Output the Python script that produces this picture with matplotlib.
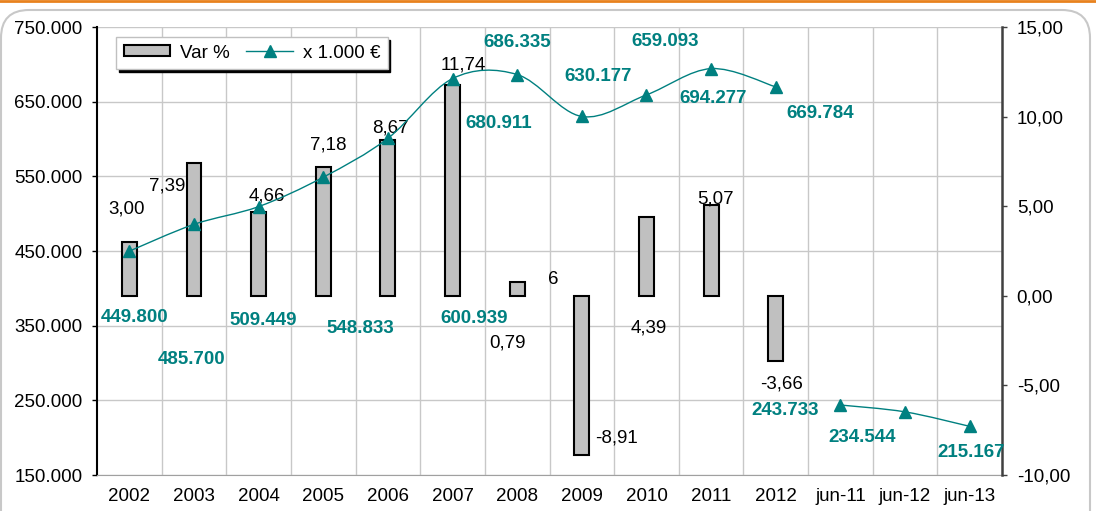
import numpy as np
import matplotlib.pyplot as plt
from matplotlib.path import Path
from matplotlib.patches import PathPatch, FancyBboxPatch, Rectangle
from matplotlib.lines import Line2D
from matplotlib.transforms import IdentityTransform

plt.rcParams['font.family'] = ['Liberation Sans', 'DejaVu Sans']

# data
categories = ['2002', '2003', '2004', '2005', '2006', '2007', '2008', '2009',
              '2010', '2011', '2012', 'jun-11', 'jun-12', 'jun-13']
var_pct = [3.00, 7.39, 4.66, 7.18, 8.67, 11.74, 0.79, -8.91, 4.39, 5.07, -3.66]
var_text = ['3,00', '7,39', '4,66', '7,18', '8,67', '11,74', '0,79', '-8,91',
            '4,39', '5,07', '-3,66']
amount = [449800, 485700, 509449, 548833, 600939, 680911, 686335, 630177,
          659093, 694277, 669784, 243733, 234544, 215167]
amount_text = ['449.800', '485.700', '509.449', '548.833', '600.939', '680.911',
               '686.335', '630.177', '659.093', '694.277', '669.784',
               '243.733', '234.544', '215.167']
left_ticks = [150000, 250000, 350000, 450000, 550000, 650000, 750000]
left_tick_text = ['150.000', '250.000', '350.000', '450.000', '550.000',
                  '650.000', '750.000']
right_ticks = [-10, -5, 0, 5, 10, 15]
right_tick_text = ['-10,00', '-5,00', '0,00', '5,00', '10,00', '15,00']

# label offsets in pixels (as they sit in the original, a bit scattered)
amount_off = [(5, -66), (-2, -135), (5, -114), (37, -151), (86, -180),
              (46, -45), (0, 32), (16, 40), (19, 53), (2, -30), (44, -27),
              (-55, -5), (-43, -26), (1, -26)]
var_off = [(-3, 33), (-27, -23), (8, 16), (5, 22), (3, 12), (11, 20),
           (-10, -61), (35, 17), (2, -111), (4, 6), (6, -23)]

teal = '#008080'
fs = 13.5


def smooth_path(xs, ys):
    # catmull-rom style bezier, like excel's smoothed line
    pts = np.column_stack([xs, ys]).astype(float)
    n = len(pts)
    verts = [pts[0]]
    codes = [Path.MOVETO]
    for i in range(n - 1):
        p0 = pts[i - 1] if i > 0 else pts[i]
        p1 = pts[i]
        p2 = pts[i + 1]
        p3 = pts[i + 2] if i + 2 < n else pts[i + 1]
        verts += [p1 + (p2 - p0) / 6, p2 - (p3 - p1) / 6, p2]
        codes += [Path.CURVE4] * 3
    return Path(verts, codes)


fig = plt.figure(figsize=(10.96, 5.11), dpi=100)
fig.add_artist(Line2D([0, 1], [1 - 1.5 / 511] * 2, transform=fig.transFigure,
                      color='#e8821e', lw=2))
fig.add_artist(FancyBboxPatch((1, -30), 1089, 531, transform=IdentityTransform(),
                              boxstyle='round,pad=0,rounding_size=28',
                              fc='none', ec='#c8c8c8', lw=1.5))

ax = fig.add_axes([97 / 1096, 36 / 511, 905 / 1096, 448 / 511])
x = np.arange(len(categories))

ax.set_xlim(-0.5, len(categories) - 0.5)
ax.set_ylim(150000, 750000)
ax.set_yticks(left_ticks)
ax.set_yticklabels(left_tick_text)
ax.set_xticks(x)
ax.set_xticklabels(categories)
ax.set_xticks(x[:-1] + 0.5, minor=True)
ax.grid(axis='y', color='#c8c8c8', lw=1)
ax.grid(axis='x', which='minor', color='#c8c8c8', lw=1)
ax.tick_params(axis='x', which='both', length=0, pad=9, labelsize=fs)
ax.tick_params(axis='y', direction='out', length=3.6, width=1, pad=7, labelsize=fs)
ax.spines['left'].set_color('black')
ax.spines['left'].set_linewidth(1.5)
ax.spines['bottom'].set_color('#a0a0a0')
ax.spines['top'].set_visible(False)
ax.spines['right'].set_visible(False)

# bars on the right axis
ax2 = ax.twinx()
ax2.set_ylim(-10, 15)
ax2.set_yticks(right_ticks)
ax2.set_yticklabels(right_tick_text)
ax2.tick_params(axis='y', direction='out', length=3.6, width=1, pad=7,
                labelsize=fs, color='#404040')
for s in ['left', 'top', 'bottom']:
    ax2.spines[s].set_visible(False)
ax2.spines['right'].set_color('#404040')
ax2.spines['right'].set_linewidth(1.8)
ax2.bar(x[:len(var_pct)], var_pct, width=0.23, color='#c0c0c0',
        edgecolor='black', lw=1.5)
for i, t in enumerate(var_text):
    ax2.annotate(t, (x[i], var_pct[i]), xytext=var_off[i],
                 textcoords='offset pixels', ha='center', va='center',
                 fontsize=fs, color='black')
ax2.annotate('6', (x[6], var_pct[6]), xytext=(36, 2),
             textcoords='offset pixels', ha='center', va='center',
             fontsize=fs, color='black')

# line on top, same scale as left axis
ax3 = ax.twinx()
ax3.set_ylim(ax.get_ylim())
ax3.set_yticks([])
for s in ax3.spines.values():
    s.set_visible(False)

n1 = 11
ax3.add_patch(PathPatch(smooth_path(x[:n1], amount[:n1]), fc='none', ec=teal, lw=1))
ax3.add_patch(PathPatch(smooth_path(x[n1:], amount[n1:]), fc='none', ec=teal, lw=1))
ax3.plot(x, amount, ls='none', marker='^', ms=9, color=teal)
for i, t in enumerate(amount_text):
    ax3.annotate(t, (x[i], amount[i]), xytext=amount_off[i],
                 textcoords='offset pixels', ha='center', va='center',
                 fontsize=fs, fontweight='bold', color=teal)

handles = [Rectangle((0, 0), 1, 1, fc='#c0c0c0', ec='black', lw=1.5),
           Line2D([], [], color=teal, lw=1, marker='^', ms=9)]
leg = ax3.legend(handles, ['Var %', 'x 1.000 €'], loc='upper left',
                 bbox_to_anchor=(116 / 1096, 1 - 37 / 511),
                 bbox_transform=fig.transFigure, ncol=2, fancybox=False,
                 shadow={'color': 'black', 'alpha': 1}, edgecolor='#c0c0c0',
                 framealpha=1, borderaxespad=0, handlelength=2.5,
                 handleheight=0.5, columnspacing=0.9, handletextpad=0.5,
                 borderpad=0.4, fontsize=fs)
leg.get_frame().set_linewidth(1)

fig.savefig('out.png', dpi=100)
